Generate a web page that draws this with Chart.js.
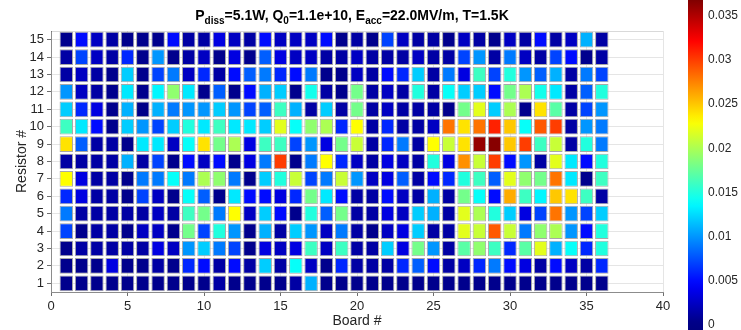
<!DOCTYPE html>
<html>
<head>
<meta charset="utf-8">
<script src="https://cdn.jsdelivr.net/npm/chart.js@4.4.1/dist/chart.umd.min.js"></script>
<style>
  html, body { margin: 0; padding: 0; background: #fff; }
  #wrap { position: relative; width: 741px; height: 330px; overflow: hidden; }
  #heat { position: absolute; left: 0; top: 0; }
  #cbar { position: absolute; left: 680px; top: 0; }
</style>
</head>
<body>
<div id="wrap">
  <canvas id="heat" width="680" height="330" style="width:680px;height:330px"></canvas>
  <canvas id="cbar" width="61" height="330" style="width:61px;height:330px"></canvas>
</div>
<script>
// run conditions shown in the title
var pDiss = '5.1';
var q0 = '1.1e+10';
var eAcc = '22.0';
var temp = '1.5';

var boards = [1, 2, 3, 4, 5, 6, 7, 8, 9, 10, 11, 12, 13, 14, 15, 16, 17, 18,
              19, 20, 21, 22, 23, 24, 25, 26, 27, 28, 29, 30, 31, 32, 33, 34, 35, 36];
var resistors = [1, 2, 3, 4, 5, 6, 7, 8, 9, 10, 11, 12, 13, 14, 15];
var boardTicks = [0, 5, 10, 15, 20, 25, 30, 35, 40];
var colorTicks = [0, 0.005, 0.01, 0.015, 0.02, 0.025, 0.03, 0.035];

// colour limits of the heat map; the bar axis runs a little below zero
var colorMin = 0;
var colorMax = 0.0368;
var colorAxisMin = -0.0006;

// heating per resistor, boards 1..36
var row1 = [0.0005, 0.0005, 0.0005, 0.0005, 0.0005, 0.0005, 0.0005, 0.0005, 0.0005,
            0.0005, 0.0013, 0.0005, 0.0005, 0.0005, 0.0005, 0.0013, 0.011, 0.0005,
            0.0005, 0.0005, 0.0005, 0.0005, 0.0005, 0.0005, 0.0005, 0.0005, 0.0005,
            0.0005, 0.0005, 0.0005, 0.0005, 0.0005, 0.0005, 0.0005, 0.0005, 0.0005];
var row2 = [0.0005, 0.0005, 0.0005, 0.0035, 0.0005, 0.0005, 0.0013, 0.0005, 0.006,
            0.005, 0.0013, 0.005, 0.0013, 0.012, 0.0013, 0.014, 0.0024, 0.0005,
            0.006, 0.0013, 0.0013, 0.0013, 0.006, 0.008, 0.005, 0.0013, 0.0024,
            0.006, 0.009, 0.005, 0.0035, 0.0013, 0.005, 0.0024, 0.0013, 0.006];
var row3 = [0.0005, 0.0013, 0.0013, 0.0013, 0.0013, 0.0013, 0.0035, 0.0024, 0.010,
            0.012, 0.009, 0.007, 0.0005, 0.0035, 0.0024, 0.0035, 0.016, 0.0024,
            0.016, 0.0013, 0.0013, 0.012, 0.0035, 0.018, 0.010, 0.0013, 0.017,
            0.019, 0.016, 0.006, 0.017, 0.022, 0.011, 0.014, 0.006, 0.015];
var row4 = [0.007, 0.0005, 0.0013, 0.0013, 0.0005, 0.0024, 0.0024, 0.0005, 0.018,
            0.007, 0.015, 0.010, 0.0005, 0.011, 0.0013, 0.012, 0.010, 0.0024,
            0.009, 0.0013, 0.0005, 0.0024, 0.0035, 0.012, 0.0013, 0.0013, 0.022,
            0.021, 0.029, 0.021, 0.009, 0.019, 0.020, 0.010, 0.005, 0.015];
var row5 = [0.009, 0.0013, 0.0013, 0.0013, 0.0013, 0.0013, 0.0024, 0.0013, 0.016,
            0.018, 0.009, 0.023, 0.0024, 0.012, 0.005, 0.0005, 0.015, 0.008,
            0.018, 0.0013, 0.0013, 0.0035, 0.0024, 0.012, 0.011, 0.0013, 0.022,
            0.020, 0.015, 0.012, 0.0035, 0.007, 0.028, 0.010, 0.007, 0.012];
var row6 = [0.006, 0.0035, 0.0013, 0.0013, 0.0005, 0.007, 0.0024, 0.0005, 0.014,
            0.008, 0.0005, 0.013, 0.005, 0.005, 0.0035, 0.006, 0.018, 0.013,
            0.005, 0.0013, 0.0013, 0.005, 0.0024, 0.0013, 0.011, 0.0013, 0.018,
            0.014, 0.005, 0.026, 0.016, 0.0135, 0.025, 0.024, 0.016, 0.0013];
var row7 = [0.023, 0.0035, 0.0013, 0.0013, 0.0005, 0.009, 0.009, 0.014, 0.009,
            0.020, 0.019, 0.009, 0.0005, 0.012, 0.015, 0.021, 0.007, 0.009,
            0.021, 0.010, 0.0024, 0.0035, 0.008, 0.0013, 0.005, 0.006, 0.015,
            0.016, 0.008, 0.022, 0.019, 0.018, 0.028, 0.013, 0.0005, 0.016];
var row8 = [0.0013, 0.0013, 0.0013, 0.0013, 0.011, 0.0013, 0.007, 0.0005, 0.005,
            0.0024, 0.005, 0.0005, 0.0035, 0.009, 0.030, 0.0005, 0.009, 0.023,
            0.006, 0.0024, 0.0013, 0.0035, 0.0024, 0.0013, 0.015, 0.0035, 0.027,
            0.021, 0.030, 0.005, 0.010, 0.0013, 0.022, 0.013, 0.005, 0.015];
var row9 = [0.024, 0.008, 0.0013, 0.0013, 0.0005, 0.013, 0.013, 0.0024, 0.014,
            0.024, 0.018, 0.020, 0.0035, 0.016, 0.016, 0.007, 0.010, 0.0035,
            0.018, 0.021, 0.0013, 0.006, 0.009, 0.0013, 0.023, 0.021, 0.024,
            0.036, 0.0365, 0.025, 0.030, 0.016, 0.021, 0.0013, 0.015, 0.009];
var row10 = [0.016, 0.013, 0.005, 0.0005, 0.012, 0.010, 0.007, 0.012, 0.015,
             0.013, 0.016, 0.013, 0.013, 0.012, 0.022, 0.014, 0.019, 0.020,
             0.006, 0.023, 0.0013, 0.006, 0.0013, 0.0013, 0.0024, 0.028, 0.024,
             0.028, 0.031, 0.025, 0.014, 0.029, 0.030, 0.0013, 0.010, 0.009];
var row11 = [0.012, 0.006, 0.0035, 0.0005, 0.011, 0.0003, 0.011, 0.009, 0.010,
             0.010, 0.012, 0.010, 0.007, 0.008, 0.016, 0.011, 0.0013, 0.012,
             0.0013, 0.018, 0.0013, 0.0024, 0.0013, 0.0013, 0.0013, 0.0005, 0.018,
             0.022, 0.012, 0.020, 0.0005, 0.024, 0.017, 0.0013, 0.007, 0.010];
var row12 = [0.010, 0.0024, 0.0013, 0.0005, 0.013, 0.0005, 0.0135, 0.019, 0.013,
             0.0005, 0.008, 0.0005, 0.005, 0.011, 0.012, 0.0005, 0.0145, 0.0013,
             0.0005, 0.018, 0.0013, 0.0024, 0.0013, 0.015, 0.0013, 0.014, 0.012,
             0.012, 0.005, 0.018, 0.020, 0.0145, 0.013, 0.0013, 0.008, 0.015];
var row13 = [0.0013, 0.0024, 0.0013, 0.0005, 0.012, 0.0005, 0.007, 0.009, 0.0024,
             0.006, 0.0013, 0.005, 0.008, 0.009, 0.006, 0.005, 0.009, 0.0005,
             0.0005, 0.0024, 0.0013, 0.005, 0.006, 0.012, 0.0013, 0.009, 0.0035,
             0.016, 0.007, 0.015, 0.010, 0.008, 0.011, 0.0013, 0.009, 0.007];
var row14 = [0.0013, 0.007, 0.0024, 0.0013, 0.006, 0.0005, 0.010, 0.0005, 0.0013,
             0.0024, 0.0005, 0.0035, 0.0005, 0.008, 0.0035, 0.0024, 0.0024, 0.0013,
             0.0013, 0.0024, 0.0013, 0.0013, 0.0013, 0.0024, 0.0013, 0.0013, 0.007,
             0.010, 0.0013, 0.009, 0.0024, 0.0013, 0.007, 0.005, 0.0005, 0.0013];
var row15 = [0.0005, 0.005, 0.0024, 0.0013, 0.0005, 0.0005, 0.0005, 0.005, 0.0013,
             0.0013, 0.0035, 0.0024, 0.0013, 0.005, 0.0024, 0.0024, 0.0024, 0.005,
             0.0005, 0.0013, 0.0005, 0.007, 0.0024, 0.0013, 0.0013, 0.0005, 0.0024,
             0.0013, 0.0005, 0.0024, 0.0013, 0.005, 0.0013, 0.0024, 0.011, 0.0013];

var rows = [row1, row2, row3, row4, row5, row6, row7, row8,
            row9, row10, row11, row12, row13, row14, row15];

Chart.defaults.font.family = '"Liberation Sans", Arial, Helvetica, sans-serif';
Chart.defaults.color = '#262626';

// matlab style jet colormap
function jet(v) {
  var t = (v - colorMin) / (colorMax - colorMin);
  t = Math.max(0, Math.min(1, t));
  function c(x) { return Math.round(255 * Math.max(0, Math.min(1, x))); }
  return 'rgb(' + c(1.5 - Math.abs(4 * t - 3)) + ',' +
                  c(1.5 - Math.abs(4 * t - 2)) + ',' +
                  c(1.5 - Math.abs(4 * t - 1)) + ')';
}

// one floating-bar dataset per resistor row, one cell per board
var datasets = resistors.map(function (r, i) {
  return {
    label: 'Resistor ' + r,
    data: boards.map(function (b) { return { x: b, y: [r - 0.45, r + 0.45] }; }),
    backgroundColor: rows[i].map(jet),
    borderColor: '#a8a8a8',
    borderWidth: 1,
    borderSkipped: false,
    barPercentage: 0.88,
    categoryPercentage: 1
  };
});

var titleParts = [
  ['P', false], ['diss', true], ['=' + pDiss + 'W, Q', false], ['0', true],
  ['=' + q0 + ', E', false], ['acc', true], ['=' + eAcc + 'MV/m, T=' + temp + 'K', false]
];

// title with subscripts, plus the top edge of the axes box
var titlePlugin = {
  id: 'subscriptTitle',
  beforeDatasetsDraw: function (chart) {
    var a = chart.chartArea;
    var ctx = chart.ctx;
    ctx.save();
    ctx.strokeStyle = 'rgba(0,0,0,0.15)';
    ctx.lineWidth = 1;
    ctx.beginPath();
    ctx.moveTo(a.left, a.top + 0.5);
    ctx.lineTo(a.right, a.top + 0.5);
    ctx.stroke();
    ctx.restore();
  },
  afterDraw: function (chart) {
    var ctx = chart.ctx;
    var a = chart.chartArea;
    var mainFont = 'bold 14px "Liberation Sans", Arial, sans-serif';
    var subFont = 'bold 10px "Liberation Sans", Arial, sans-serif';
    ctx.save();
    var total = 0;
    titleParts.forEach(function (p) {
      ctx.font = p[1] ? subFont : mainFont;
      total += ctx.measureText(p[0]).width;
    });
    var x = (a.left + a.right) / 2 - 5 - total / 2;
    ctx.fillStyle = '#000';
    ctx.textBaseline = 'alphabetic';
    titleParts.forEach(function (p) {
      ctx.font = p[1] ? subFont : mainFont;
      ctx.fillText(p[0], x, p[1] ? 24 : 20);
      x += ctx.measureText(p[0]).width;
    });
    ctx.restore();
  }
};

new Chart(document.getElementById('heat'), {
  type: 'bar',
  data: { datasets: datasets },
  plugins: [titlePlugin],
  options: {
    responsive: false,
    animation: false,
    datasets: { bar: { grouped: false } },
    layout: { padding: { top: 31, right: 17, bottom: 0, left: 0 } },
    plugins: {
      legend: { display: false },
      tooltip: { enabled: false }
    },
    scales: {
      x: {
        type: 'linear',
        min: 0,
        max: 40,
        offset: false,
        grid: { offset: false, color: 'rgba(0,0,0,0.1)', tickLength: 4, tickColor: '#6e6e6e' },
        border: { color: '#8c8c8c' },
        afterBuildTicks: function (s) {
          s.ticks = boardTicks.map(function (v) { return { value: v }; });
        },
        afterFit: function (s) { s.height = 38; },
        ticks: { font: { size: 13 }, padding: 3, maxRotation: 0 },
        title: { display: true, text: 'Board #', font: { size: 14 }, padding: { top: 0, bottom: 0 } }
      },
      y: {
        type: 'linear',
        min: 0.5,
        max: 15.5,
        grid: { color: 'rgba(0,0,0,0.1)', tickLength: 4, tickColor: '#6e6e6e' },
        border: { color: '#8c8c8c' },
        afterBuildTicks: function (s) {
          s.ticks = resistors.map(function (v) { return { value: v }; });
        },
        afterFit: function (s) { s.width = 51; },
        ticks: { font: { size: 13 }, padding: 3 },
        title: { display: true, text: 'Resistor #', font: { size: 14 }, padding: { top: 14, bottom: 0 } }
      }
    }
  }
});

// colour bar: one floating bar filled with the jet gradient
function jetGradient(context) {
  var chart = context.chart;
  if (!chart.chartArea) return null;
  var y = chart.scales.y;
  var lo = y.getPixelForValue(colorAxisMin);
  var hi = y.getPixelForValue(colorMax);
  var g = chart.ctx.createLinearGradient(0, lo, 0, hi);
  for (var i = 0; i <= 40; i++) {
    g.addColorStop(i / 40, jet(colorAxisMin + (colorMax - colorAxisMin) * i / 40));
  }
  return g;
}

new Chart(document.getElementById('cbar'), {
  type: 'bar',
  data: {
    labels: [''],
    datasets: [{
      data: [[colorAxisMin, colorMax]],
      backgroundColor: jetGradient,
      borderWidth: 0,
      barPercentage: 1,
      categoryPercentage: 1
    }]
  },
  options: {
    responsive: false,
    animation: false,
    layout: { padding: { top: 0, right: 0, bottom: 0, left: 8 } },
    plugins: {
      legend: { display: false },
      tooltip: { enabled: false }
    },
    scales: {
      x: { display: false },
      y: {
        position: 'right',
        min: colorAxisMin,
        max: colorMax,
        grid: { display: false, drawTicks: false },
        border: { display: false },
        afterBuildTicks: function (s) {
          s.ticks = colorTicks.map(function (v) { return { value: v }; });
        },
        afterFit: function (s) {
          s.width = 38;
          s.paddingTop = 0;
          s.paddingBottom = 0;
        },
        ticks: {
          font: { size: 12 },
          padding: 5,
          callback: function (v) { return String(+v.toFixed(3)); }
        }
      }
    }
  }
});
</script>
</body>
</html>
